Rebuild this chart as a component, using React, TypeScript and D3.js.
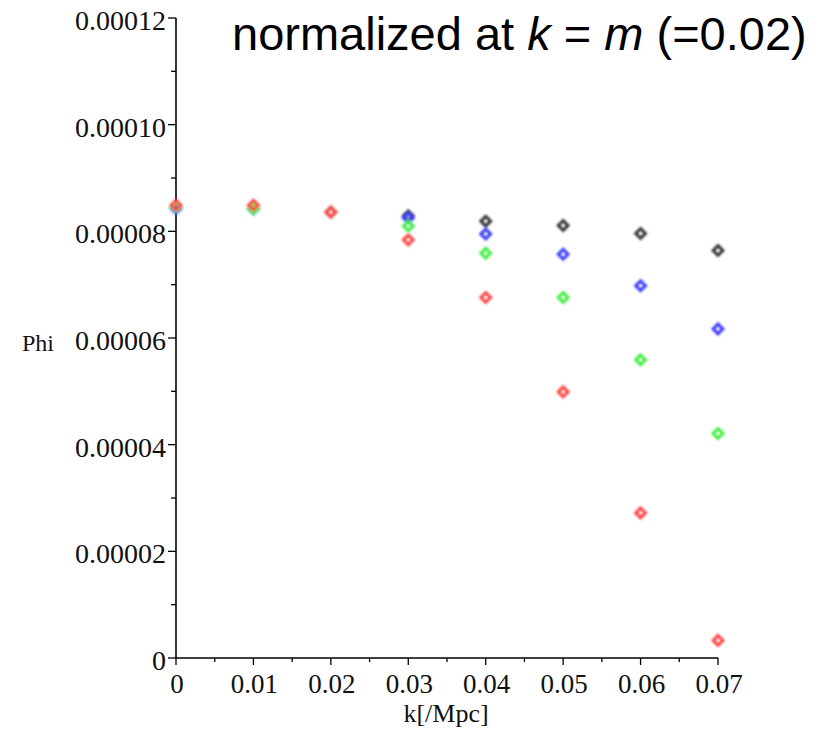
import React from "react";
import * as d3 from "d3";

const kValues = [0, 0.01, 0.02, 0.03, 0.04, 0.05, 0.06, 0.07];
const seriesBlack = [0.0000846, 0.0000843, 0.0000836, 0.0000829, 0.0000819, 0.0000811, 0.0000796, 0.0000764];
const seriesBlue = [0.0000843, 0.0000842, 0.0000836, 0.0000825, 0.0000795, 0.0000757, 0.0000698, 0.0000617];
const seriesGreen = [0.0000846, 0.0000843, 0.0000836, 0.000081, 0.0000759, 0.0000676, 0.0000559, 0.0000421];
const seriesRed = [0.0000849, 0.0000849, 0.0000836, 0.0000784, 0.0000676, 0.0000499, 0.0000272, 0.0000033];
const seriesColors = ["#3a3a3a", "#4040ff", "#44f044", "#ff4848"];
const yTickLabels = ["0", "0.00002", "0.00004", "0.00006", "0.00008", "0.00010", "0.00012"];
const xTickLabels = ["0", "0.01", "0.02", "0.03", "0.04", "0.05", "0.06", "0.07"];

export default function App() {
  const W = 838, H = 736;
  const x = d3.scaleLinear().domain([0, 0.07]).range([176, 718]);
  const y = d3.scaleLinear().domain([0, 0.00012]).range([658, 18]);
  const series = [seriesBlack, seriesBlue, seriesGreen, seriesRed];
  const yMajor = d3.range(0, 7).map((i) => i * 0.00002);
  const yMinor = d3.range(0, 6).map((i) => i * 0.00002 + 0.00001);
  const xMinor = d3.range(0, 7).map((i) => i * 0.01 + 0.005);
  const diamond = (cx: number, cy: number, r: number) =>
    `M${cx},${cy - r}L${cx + r},${cy}L${cx},${cy + r}L${cx - r},${cy}Z`;
  const font = "'Liberation Serif', 'Times New Roman', serif";
  return (
    <svg width={W} height={H} style={{ position: "absolute", left: 0, top: 0, background: "#fff" }}>
      <defs>
        <filter id="soft" x="-50%" y="-50%" width="200%" height="200%">
          <feGaussianBlur stdDeviation="0.8" />
        </filter>
      </defs>
      <rect width={W} height={H} fill="#fff" />
      {/* axes */}
      <line x1={x(0)} x2={x(0)} y1={y(0.00012)} y2={y(0)} stroke="#000" strokeWidth={1.6} />
      <line x1={x(0)} x2={x(0.07)} y1={y(0)} y2={y(0)} stroke="#000" strokeWidth={1.6} />
      {yMajor.map((v, i) => (
        <g key={"ym" + i}>
          <line x1={x(0) - 8} x2={x(0)} y1={y(v)} y2={y(v)} stroke="#000" strokeWidth={1.3} />
          <text x={x(0) - 10} y={y(v) + 12} textAnchor="end" fontFamily={font} fontSize={28} fill="#111">
            {yTickLabels[i]}
          </text>
        </g>
      ))}
      {yMinor.map((v, i) => (
        <line key={"yn" + i} x1={x(0) - 5} x2={x(0)} y1={y(v)} y2={y(v)} stroke="#000" strokeWidth={1.3} />
      ))}
      {kValues.map((v, i) => (
        <g key={"xm" + i}>
          <line x1={x(v)} x2={x(v)} y1={y(0)} y2={y(0) + 7} stroke="#000" strokeWidth={1.3} />
          <text x={x(v) + 1} y={693} textAnchor="middle" fontFamily={font} fontSize={27} fill="#111">
            {xTickLabels[i]}
          </text>
        </g>
      ))}
      {xMinor.map((v, i) => (
        <line key={"xn" + i} x1={x(v)} x2={x(v)} y1={y(0)} y2={y(0) + 4} stroke="#000" strokeWidth={1.3} />
      ))}
      <text x={22} y={351} fontFamily={font} fontSize={24} fill="#111">Phi</text>
      <text x={446} y={722} textAnchor="middle" fontFamily={font} fontSize={26} fill="#111">k[/Mpc]</text>
      {/* points */}
      <g filter="url(#soft)">
        {series.map((s, si) =>
          s.map((v, i) => (
            <path
              key={si + "-" + i}
              d={diamond(x(kValues[i]), y(v), 4.8)}
              fill="none"
              stroke={seriesColors[si]}
              strokeWidth={3.2}
            />
          ))
        )}
      </g>
      {/* title */}
      <text x={232} y={50} fontFamily="'Liberation Sans', Arial, sans-serif" fontSize={47} fill="#000">
        <tspan>normalized at </tspan>
        <tspan fontStyle="italic">k</tspan>
        <tspan> = </tspan>
        <tspan fontStyle="italic">m</tspan>
        <tspan> (=0.02)</tspan>
      </text>
    </svg>
  );
}
